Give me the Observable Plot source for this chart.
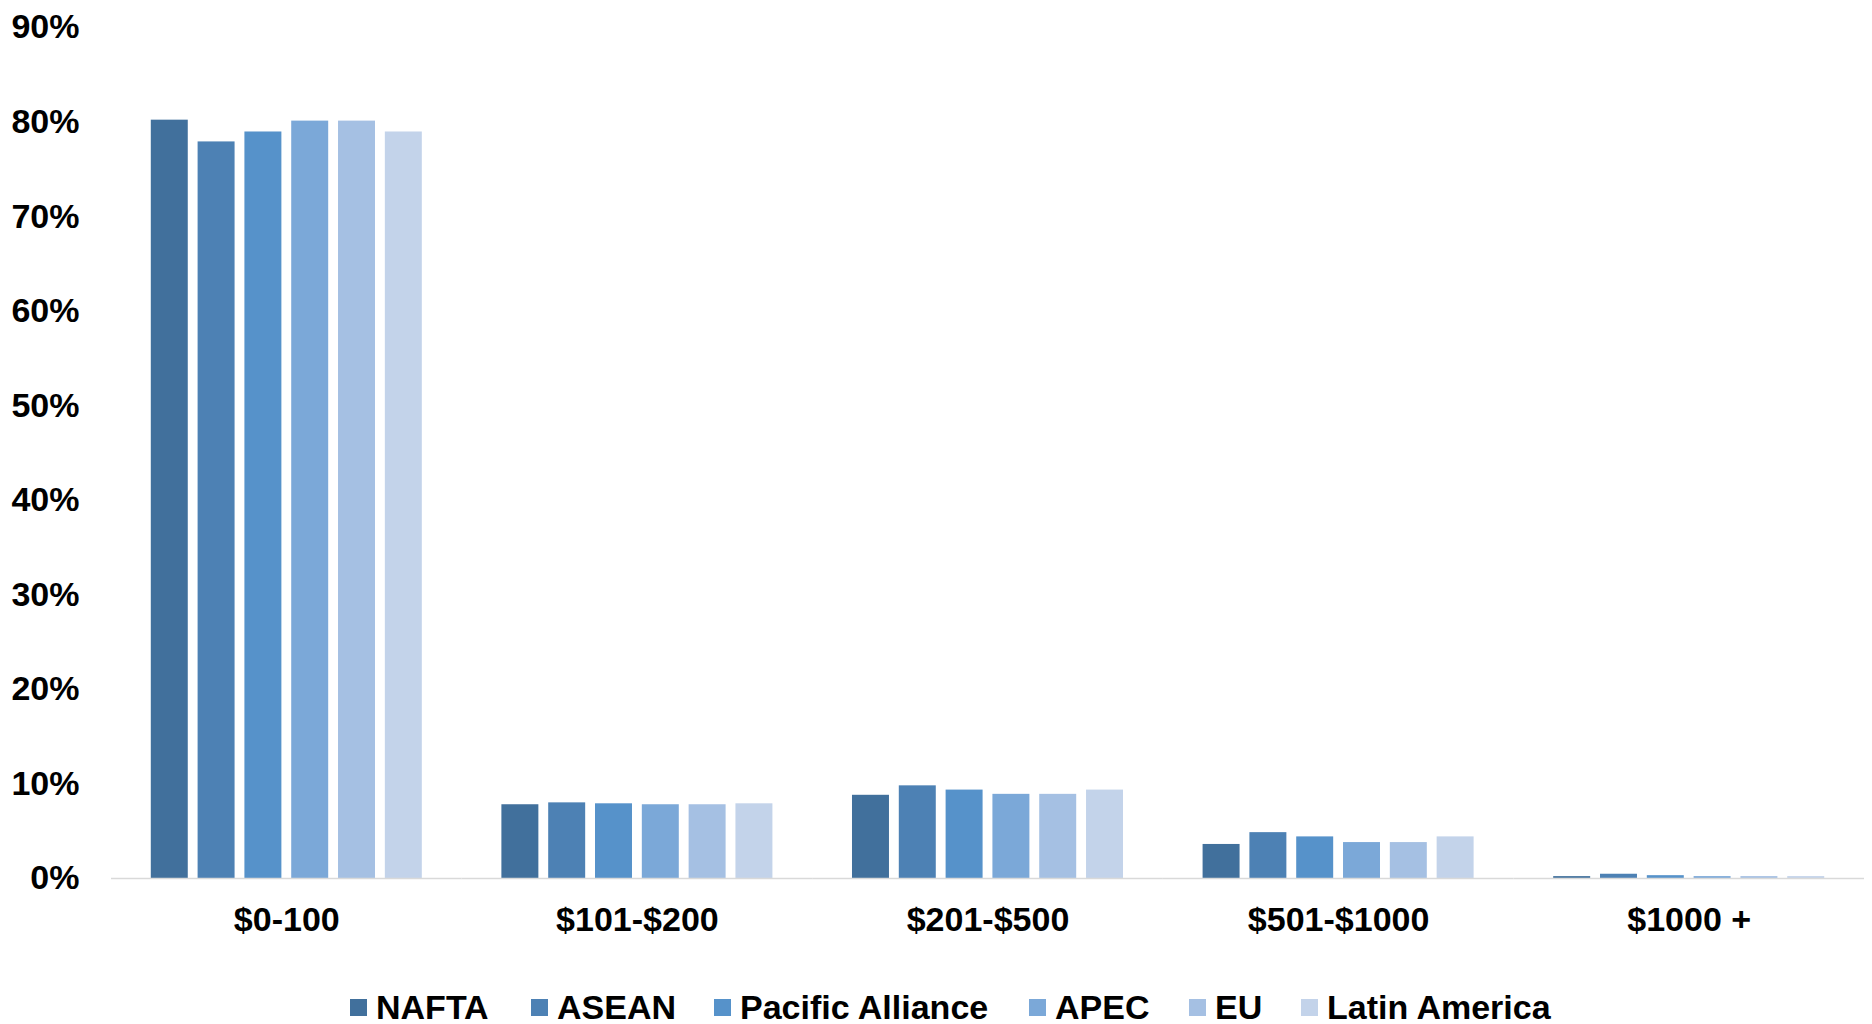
<!DOCTYPE html>
<html>
<head>
<meta charset="utf-8">
<script src="https://cdn.jsdelivr.net/npm/d3@7"></script>
<script src="https://cdn.jsdelivr.net/npm/@observablehq/plot@0.6"></script>
<style>
  html, body { margin: 0; padding: 0; background: #fff; }
  body { width: 1872px; height: 1024px; position: relative; overflow: hidden; font-family: "Liberation Sans", Arial, sans-serif; }
  #chart { position: absolute; left: 0; top: 0; }
  #legend { position: absolute; left: 0; top: 990px; width: 1872px; height: 34px; font-weight: bold; font-size: 34px; color: #000; white-space: nowrap; }
  .item { position: absolute; top: 0; height: 34px; display: flex; align-items: center; }
  .sw { width: 17px; height: 17px; margin-right: 9px; }
</style>
</head>
<body>
<div id="chart"></div>
<div id="legend"></div>
<script>
const categories = ["$0-100", "$101-$200", "$201-$500", "$501-$1000", "$1000 +"];
const series = ["NAFTA", "ASEAN", "Pacific Alliance", "APEC", "EU", "Latin America"];
const colors = ["#41709C", "#4D81B4", "#5692CA", "#7BA8D8", "#A5C0E3", "#C3D3EA"];
const NAFTA = [80.2, 7.8, 8.8, 3.6, 0.2];
const ASEAN = [77.9, 8.0, 9.8, 4.85, 0.45];
const PacificAlliance = [78.95, 7.9, 9.35, 4.4, 0.3];
const APEC = [80.1, 7.8, 8.9, 3.8, 0.2];
const EU = [80.1, 7.8, 8.9, 3.8, 0.2];
const LatinAmerica = [78.95, 7.9, 9.35, 4.4, 0.2];
const yTicks = [0, 0.1, 0.2, 0.3, 0.4, 0.5, 0.6, 0.7, 0.8, 0.9];
const legendLeft = [350, 531, 714, 1029, 1189, 1301];

const valuesBySeries = [NAFTA, ASEAN, PacificAlliance, APEC, EU, LatinAmerica];
const data = [];
categories.forEach((c, i) => {
  series.forEach((s, j) => {
    data.push({category: c, series: s, value: valuesBySeries[j][i] / 100});
  });
});

const chart = Plot.plot({
  width: 1872,
  height: 960,
  marginLeft: 111,
  marginRight: 8,
  marginTop: 27,
  marginBottom: 82,
  style: {fontFamily: "'Liberation Sans', Arial, sans-serif", fontSize: "34px", fontWeight: "bold", color: "#000", background: "#fff"},
  fx: {domain: categories, padding: 0, round: false, label: null},
  x: {domain: series, paddingInner: 0.21, paddingOuter: 0.85, round: false, axis: null},
  y: {domain: [0, 0.9], label: null},
  color: {domain: series, range: colors},
  marks: [
    Plot.barY(data, {fx: "category", x: "series", y: "value", fill: "series"}),
    Plot.ruleY([0], {stroke: "#d9d9d9", strokeWidth: 1.5}),
    Plot.axisFx({anchor: "bottom", tickSize: 0, tickPadding: 28, label: null, fontSize: 34, fontWeight: "bold"}),
    Plot.axisY({ticks: yTicks, tickFormat: d3.format(".0%"), tickSize: 0, tickPadding: 32, label: null, fontSize: 34, fontWeight: "bold"})
  ]
});
document.getElementById("chart").appendChild(chart);

const legend = document.getElementById("legend");
series.forEach((s, j) => {
  const item = document.createElement("div");
  item.className = "item";
  item.style.left = legendLeft[j] + "px";
  const sw = document.createElement("div");
  sw.className = "sw";
  sw.style.background = colors[j];
  const t = document.createElement("span");
  t.textContent = s;
  item.appendChild(sw);
  item.appendChild(t);
  legend.appendChild(item);
});
</script>
</body>
</html>
